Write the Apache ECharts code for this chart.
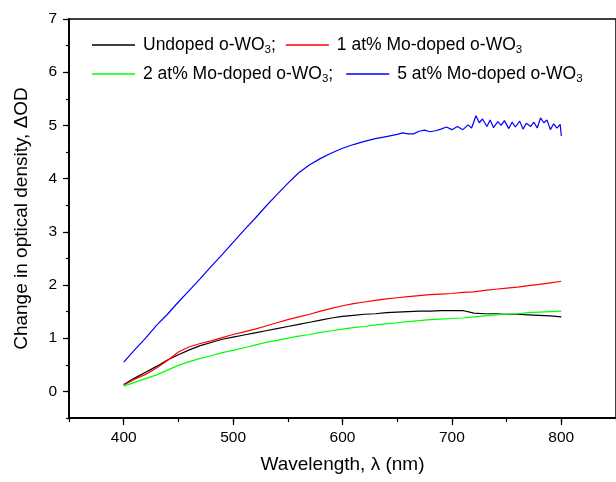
<!DOCTYPE html>
<html>
<head>
<meta charset="utf-8">
<script src="https://cdn.jsdelivr.net/npm/echarts@6/dist/echarts.min.js"></script>
<style>
  html, body { margin: 0; padding: 0; background: #fff; }
  #od_chart { width: 616px; height: 482px; }
</style>
</head>
<body>
<div id="od_chart"></div>
<script>
// wavelength grid (nm) for the three smoother curves
const wavelength = [400, 410, 420, 430, 440, 450, 460, 470, 480, 490, 500, 510, 520, 530, 540, 550, 560, 570, 580, 590, 600,
  610, 620, 630, 640, 650, 660, 670, 680, 690, 700, 710, 720, 730, 740, 750, 760, 770, 780, 790, 800]

const undoped = [0.13, 0.25, 0.36, 0.47, 0.59, 0.69, 0.78, 0.86, 0.92, 0.98, 1.02, 1.06, 1.10, 1.14, 1.18, 1.22, 1.26, 1.30, 1.34, 1.38, 1.41,
  1.43, 1.45, 1.46, 1.48, 1.49, 1.50, 1.51, 1.51, 1.52, 1.52, 1.52, 1.47, 1.46, 1.46, 1.45, 1.45, 1.44, 1.43, 1.42, 1.40]

const mo1 = [0.12, 0.23, 0.32, 0.44, 0.58, 0.74, 0.84, 0.90, 0.95, 1.01, 1.07, 1.12, 1.17, 1.23, 1.29, 1.35, 1.40, 1.45, 1.51, 1.56, 1.61,
  1.65, 1.68, 1.71, 1.74, 1.76, 1.78, 1.80, 1.82, 1.83, 1.84, 1.86, 1.87, 1.90, 1.92, 1.94, 1.96, 1.99, 2.01, 2.04, 2.07]

const mo2 = [0.10, 0.17, 0.24, 0.31, 0.40, 0.49, 0.56, 0.62, 0.67, 0.73, 0.77, 0.82, 0.87, 0.92, 0.96, 1.00, 1.04, 1.07, 1.11, 1.14, 1.17,
  1.20, 1.22, 1.25, 1.27, 1.29, 1.31, 1.33, 1.35, 1.36, 1.37, 1.38, 1.40, 1.42, 1.44, 1.45, 1.46, 1.48, 1.49, 1.50, 1.51]

// 5 at% curve is noisy at long wavelengths, so it has its own finer grid
const wavelength5 = [400, 410, 420, 430, 440, 450, 460, 470, 480, 490, 500, 510, 520, 530, 540, 550, 560, 570, 580, 590, 600,
  610, 620, 630, 640, 650, 655, 660, 665, 670, 675, 680, 685, 690, 695, 700, 705, 710, 715, 718, 722, 725, 728, 732, 735, 738,
  742, 745, 748, 752, 755, 758, 762, 765, 768, 772, 775, 778, 781, 784, 787, 790, 793, 796, 799, 800]

const mo5 = [0.55, 0.78, 1.00, 1.24, 1.45, 1.68, 1.90, 2.12, 2.35, 2.57, 2.80, 3.03, 3.25, 3.48, 3.70, 3.91, 4.11, 4.26, 4.38, 4.48, 4.57,
  4.64, 4.70, 4.75, 4.79, 4.83, 4.86, 4.84, 4.84, 4.89, 4.91, 4.88, 4.90, 4.93, 4.97, 4.92, 4.98, 4.92, 5.01, 4.95, 5.18, 5.05, 5.12,
  4.98, 5.10, 4.96, 5.07, 5.00, 5.09, 4.94, 5.06, 4.97, 5.08, 4.93, 5.04, 4.98, 5.06, 4.95, 5.14, 5.05, 5.10, 4.92, 5.03, 4.95, 5.02, 4.80]

const xMajorTicks = [400, 500, 600, 700, 800]
const yMajorTicks = [0, 1, 2, 3, 4, 5, 6, 7]

const pairs = (xs, ys) => xs.map((x, i) => [x, ys[i]])

const legendRich = {
  n: { fontSize: 17.5, lineHeight: 22, color: '#000', fontFamily: 'Liberation Sans' },
  s: { fontSize: 11.5, lineHeight: 6, verticalAlign: 'bottom', color: '#000', fontFamily: 'Liberation Sans' }
}
const legendLabels = {
  'Undoped o-WO3': '{n|Undoped o-WO}{s|3}{n|;}',
  '1 at% Mo-doped o-WO3': '{n|1 at% Mo-doped o-WO}{s|3}',
  '2 at% Mo-doped o-WO3': '{n|2 at% Mo-doped o-WO}{s|3}{n|;}',
  '5 at% Mo-doped o-WO3': '{n|5 at% Mo-doped o-WO}{s|3}'
}

const chart = echarts.init(document.getElementById('od_chart'))

const legendBase = {
  left: 92,
  padding: 0,
  icon: 'rect',
  itemWidth: 43,
  itemHeight: 1.5,
  formatter: name => legendLabels[name],
  textStyle: { padding: [0, 0, 0, 3], rich: legendRich }
}

const xBase = {
  type: 'value',
  min: 350,
  max: 850,
  position: 'bottom',
  splitLine: { show: false },
  axisLine: { onZero: false, lineStyle: { color: '#000', width: 1.5 } }
}
const yBase = {
  type: 'value',
  min: -0.5,
  max: 7,
  position: 'left',
  splitLine: { show: false },
  axisLine: { onZero: false, lineStyle: { color: '#000', width: 1.5 } }
}

chart.setOption({
  animation: false,
  backgroundColor: '#fff',
  textStyle: { fontFamily: 'Liberation Sans' },
  grid: {
    left: 69,
    right: 0,
    top: 19,
    bottom: 64,
    show: true,
    borderColor: '#000',
    borderWidth: 1.5
  },
  legend: [
    Object.assign({ top: 36, itemGap: 10, data: ['Undoped o-WO3', '1 at% Mo-doped o-WO3'] }, legendBase),
    Object.assign({ top: 65, itemGap: 13, data: ['2 at% Mo-doped o-WO3', '5 at% Mo-doped o-WO3'] }, legendBase)
  ],
  xAxis: [
    Object.assign({}, xBase, {
      interval: 50,
      axisTick: { length: 4, lineStyle: { color: '#000', width: 1.2 } },
      axisLabel: { show: false }
    }),
    Object.assign({}, xBase, {
      interval: 50,
      name: 'Wavelength, \u03bb (nm)',
      nameLocation: 'middle',
      nameGap: 37,
      nameTextStyle: { fontSize: 19, color: '#000' },
      axisTick: { length: 7, customValues: xMajorTicks, lineStyle: { color: '#000', width: 1.2 } },
      axisLabel: { customValues: xMajorTicks, fontSize: 15.5, color: '#000', margin: 12 }
    })
  ],
  yAxis: [
    Object.assign({}, yBase, {
      interval: 0.5,
      axisTick: { length: 3, lineStyle: { color: '#000', width: 1.2 } },
      axisLabel: { show: false }
    }),
    Object.assign({}, yBase, {
      interval: 0.5,
      name: 'Change in optical density, \u0394OD',
      nameLocation: 'middle',
      nameGap: 38,
      nameTextStyle: { fontSize: 19, color: '#000' },
      axisTick: { length: 6, customValues: yMajorTicks, lineStyle: { color: '#000', width: 1.2 } },
      axisLabel: { customValues: yMajorTicks, fontSize: 15.5, color: '#000', margin: 12 }
    })
  ],
  series: [
    {
      name: 'Undoped o-WO3',
      type: 'line',
      symbol: 'none',
      data: pairs(wavelength, undoped),
      lineStyle: { color: '#000000', width: 1.2 },
      itemStyle: { color: '#000000' }
    },
    {
      name: '1 at% Mo-doped o-WO3',
      type: 'line',
      symbol: 'none',
      data: pairs(wavelength, mo1),
      lineStyle: { color: '#ff0000', width: 1.2 },
      itemStyle: { color: '#ff0000' }
    },
    {
      name: '2 at% Mo-doped o-WO3',
      type: 'line',
      symbol: 'none',
      data: pairs(wavelength, mo2),
      lineStyle: { color: '#00ff00', width: 1.2 },
      itemStyle: { color: '#00ff00' }
    },
    {
      name: '5 at% Mo-doped o-WO3',
      type: 'line',
      symbol: 'none',
      data: pairs(wavelength5, mo5),
      lineStyle: { color: '#0000ff', width: 1.2 },
      itemStyle: { color: '#0000ff' }
    }
  ]
})
</script>
</body>
</html>
